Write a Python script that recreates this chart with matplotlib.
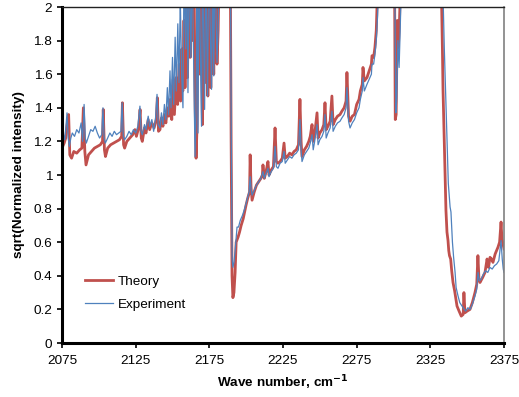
import numpy as np
import matplotlib
matplotlib.use('Agg')
import matplotlib.pyplot as plt

plt.rcParams['font.family'] = ['Liberation Sans', 'DejaVu Sans']

# theory spectrum (wave number, sqrt of normalized intensity)
theory_x = [2075.0, 2076.5, 2077.5, 2078.5, 2079.5, 2080.3, 2081.5, 2083.0, 2085.0, 2087.0,
            2088.5, 2089.5, 2090.5, 2091.3, 2093.0, 2095.0, 2097.0, 2099.0, 2101.0, 2102.5,
            2103.0, 2103.8, 2104.5, 2106.0, 2108.0, 2110.0, 2112.0, 2114.0, 2115.5, 2116.0,
            2116.8, 2117.5, 2119.0, 2121.0, 2123.0, 2124.5, 2125.5, 2127.0, 2128.0, 2128.8,
            2129.5, 2131.0, 2132.0, 2133.5, 2134.5, 2136.0, 2137.5, 2139.0, 2139.7, 2140.5,
            2141.5, 2142.5, 2143.5, 2144.5, 2145.5, 2146.5, 2147.5, 2148.5, 2149.5, 2150.5,
            2151.3, 2152.5, 2153.5, 2154.5, 2155.5, 2156.3, 2157.0, 2157.8, 2158.5, 2159.3,
            2160.2, 2161.0, 2162.0, 2162.8, 2163.8, 2164.5, 2165.4, 2166.0, 2166.7, 2167.5,
            2168.7, 2169.2, 2170.3, 2171.0, 2172.2, 2172.8, 2174.0, 2174.8, 2176.0, 2176.8,
            2178.0, 2178.8, 2180.2, 2181.0, 2181.8, 2185.0, 2189.2, 2189.8, 2190.4, 2191.0,
            2191.7, 2192.5, 2193.2, 2194.5, 2195.5, 2196.6, 2198.0, 2199.9, 2201.0, 2202.3,
            2202.7, 2203.3, 2204.0, 2205.5, 2207.0, 2208.5, 2210.0, 2211.0, 2211.4, 2212.3,
            2213.5, 2214.8, 2215.5, 2217.0, 2218.5, 2219.6, 2220.5, 2221.6, 2223.0, 2224.5,
            2225.7, 2226.5, 2228.0, 2229.5, 2231.0, 2232.5, 2234.0, 2235.5, 2236.5, 2237.3,
            2237.9, 2239.5, 2241.0, 2242.5, 2243.5, 2244.7, 2245.5, 2246.5, 2248.1, 2248.8,
            2250.0, 2251.5, 2252.7, 2253.5, 2254.3, 2255.5, 2257.0, 2258.2, 2259.0, 2260.5,
            2262.0, 2263.7, 2265.0, 2266.5, 2267.8, 2268.4, 2269.5, 2270.5, 2272.0, 2273.5,
            2275.0, 2276.6, 2277.5, 2278.8, 2279.3, 2280.2, 2282.0, 2283.5, 2285.0, 2285.4,
            2286.5, 2287.4, 2288.3, 2288.8, 2289.5, 2292.0, 2296.0, 2300.0, 2300.8, 2301.2,
            2301.8, 2302.6, 2303.3, 2304.0, 2305.0, 2310.0, 2325.0, 2332.0, 2332.7, 2333.2,
            2333.6, 2334.3, 2334.9, 2335.6, 2336.3, 2337.0, 2337.5, 2338.0, 2338.8, 2339.5,
            2340.4, 2341.5, 2343.1, 2344.5, 2346.0, 2347.3, 2347.8, 2348.5, 2350.0, 2351.9,
            2353.5, 2355.3, 2356.5, 2357.3, 2358.0, 2358.7, 2360.5, 2362.1, 2363.5, 2364.5,
            2365.5, 2366.5, 2367.5, 2369.0, 2370.9, 2372.0, 2373.0, 2373.6, 2374.3, 2375.0]
theory_y = [1.16, 1.19, 1.22, 1.30, 1.36, 1.12, 1.10, 1.14, 1.13, 1.15,
            1.16, 1.40, 1.14, 1.06, 1.12, 1.14, 1.16, 1.17, 1.18, 1.20,
            1.39, 1.15, 1.11, 1.16, 1.18, 1.19, 1.20, 1.21, 1.23, 1.43,
            1.18, 1.16, 1.20, 1.22, 1.24, 1.27, 1.23, 1.28, 1.39, 1.22,
            1.20, 1.28, 1.25, 1.33, 1.27, 1.31, 1.28, 1.33, 1.46, 1.26,
            1.27, 1.34, 1.29, 1.36, 1.31, 1.40, 1.35, 1.45, 1.33, 1.57,
            1.36, 1.58, 1.42, 1.66, 1.44, 1.75, 1.50, 1.92, 1.52, 2.05,
            1.58, 2.20, 1.70, 2.30, 1.80, 2.30, 1.40, 1.10, 1.30, 2.30,
            1.60, 2.30, 1.30, 2.30, 1.55, 2.30, 1.47, 2.30, 1.52, 2.30,
            1.60, 2.30, 1.66, 1.86, 2.30, 2.60, 2.30, 1.20, 0.40, 0.27,
            0.30, 0.42, 0.60, 0.63, 0.66, 0.70, 0.74, 0.82, 0.86, 0.90,
            1.12, 0.93, 0.85, 0.90, 0.94, 0.96, 0.98, 1.00, 1.06, 0.98,
            1.02, 1.08, 1.00, 1.03, 1.05, 1.28, 1.08, 1.07, 1.08, 1.10,
            1.19, 1.10, 1.11, 1.13, 1.12, 1.14, 1.15, 1.18, 1.45, 1.20,
            1.11, 1.15, 1.17, 1.20, 1.23, 1.30, 1.20, 1.24, 1.37, 1.22,
            1.25, 1.27, 1.30, 1.43, 1.27, 1.29, 1.32, 1.47, 1.30, 1.33,
            1.35, 1.36, 1.38, 1.40, 1.44, 1.61, 1.35, 1.32, 1.35, 1.36,
            1.42, 1.45, 1.50, 1.54, 1.64, 1.56, 1.58, 1.62, 1.66, 1.71,
            1.70, 1.76, 1.86, 2.00, 2.20, 2.40, 2.50, 2.30, 2.00, 1.33,
            1.36, 1.92, 1.76, 1.90, 2.20, 2.60, 2.60, 2.30, 2.00, 1.75,
            1.51, 1.25, 1.05, 0.79, 0.66, 0.61, 0.55, 0.52, 0.50, 0.43,
            0.36, 0.31, 0.22, 0.19, 0.16, 0.17, 0.30, 0.18, 0.19, 0.20,
            0.24, 0.30, 0.35, 0.52, 0.38, 0.36, 0.39, 0.42, 0.50, 0.45,
            0.51, 0.50, 0.48, 0.53, 0.57, 0.60, 0.72, 0.62, 0.59, 0.56]

# measured spectrum
exp_x = [2075.0, 2076.0, 2076.8, 2077.6, 2078.4, 2079.2, 2080.0, 2081.0, 2082.0, 2083.5,
         2085.0, 2086.5, 2088.0, 2089.0, 2090.0, 2090.8, 2091.5, 2093.0, 2094.5, 2096.0,
         2097.5, 2099.0, 2100.5, 2102.0, 2102.8, 2103.6, 2104.4, 2106.0, 2107.5, 2109.0,
         2110.5, 2112.0, 2113.5, 2115.0, 2115.8, 2116.6, 2117.5, 2119.0, 2120.5, 2122.0,
         2123.5, 2125.0, 2126.5, 2127.9, 2128.7, 2129.5, 2131.0, 2132.0, 2133.5, 2134.5,
         2136.0, 2137.2, 2138.5, 2139.5, 2140.3, 2141.5, 2142.5, 2143.5, 2144.5, 2145.5,
         2146.5, 2147.3, 2148.3, 2149.0, 2150.0, 2150.8, 2151.8, 2152.6, 2153.6, 2154.4,
         2155.3, 2156.2, 2157.1, 2157.8, 2159.0, 2159.7, 2160.5, 2161.3, 2162.5, 2163.3,
         2164.5, 2165.3, 2166.0, 2166.7, 2167.3, 2168.0, 2169.7, 2170.4, 2171.8, 2172.5,
         2173.8, 2174.6, 2176.5, 2177.3, 2178.0, 2178.8, 2180.2, 2181.0, 2181.8, 2185.0,
         2189.3, 2189.9, 2190.5, 2191.0, 2191.7, 2192.5, 2193.8, 2194.8, 2196.0, 2197.5,
         2199.0, 2200.5, 2202.0, 2202.7, 2203.3, 2204.0, 2205.5, 2207.0, 2208.5, 2210.0,
         2211.4, 2212.3, 2213.5, 2214.8, 2215.5, 2217.0, 2218.5, 2219.6, 2220.5, 2221.6,
         2223.0, 2224.5, 2225.7, 2226.5, 2228.0, 2229.5, 2231.0, 2232.5, 2234.0, 2235.5,
         2236.5, 2237.3, 2237.9, 2239.5, 2241.0, 2242.5, 2243.5, 2244.7, 2245.5, 2246.5,
         2248.1, 2248.8, 2250.0, 2251.5, 2252.7, 2253.5, 2254.3, 2255.5, 2257.0, 2258.2,
         2259.0, 2260.5, 2262.0, 2263.7, 2265.0, 2266.5, 2267.8, 2268.4, 2269.5, 2270.5,
         2272.0, 2273.5, 2275.0, 2276.6, 2277.5, 2278.8, 2279.3, 2280.2, 2282.0, 2283.5,
         2285.0, 2285.4, 2286.5, 2287.4, 2288.3, 2289.2, 2290.0, 2292.0, 2296.0, 2300.0,
         2301.0, 2301.6, 2302.2, 2303.0, 2303.8, 2304.5, 2305.5, 2310.0, 2325.0, 2333.0,
         2333.8, 2334.5, 2335.5, 2336.3, 2337.2, 2338.4, 2339.0, 2340.0, 2340.8, 2341.8,
         2342.5, 2343.8, 2345.0, 2346.5, 2348.0, 2349.0, 2350.5, 2352.0, 2353.5, 2355.3,
         2356.5, 2357.4, 2358.3, 2359.5, 2361.0, 2362.5, 2364.0, 2365.5, 2367.0, 2368.5,
         2370.0, 2371.5, 2373.0, 2373.8, 2374.5, 2375.0]
exp_y = [1.31, 1.24, 1.21, 1.28, 1.37, 1.22, 1.17, 1.22, 1.25, 1.23,
         1.27, 1.25, 1.31, 1.20, 1.42, 1.22, 1.19, 1.23, 1.27, 1.26,
         1.29, 1.25, 1.22, 1.24, 1.40, 1.22, 1.19, 1.22, 1.25, 1.23,
         1.26, 1.24, 1.25, 1.26, 1.43, 1.23, 1.21, 1.23, 1.26, 1.24,
         1.27, 1.25, 1.29, 1.41, 1.26, 1.24, 1.30, 1.27, 1.35, 1.29,
         1.33, 1.26, 1.34, 1.48, 1.30, 1.28, 1.37, 1.30, 1.42, 1.33,
         1.52, 1.36, 1.62, 1.40, 1.70, 1.42, 1.82, 1.50, 1.90, 1.55,
         2.05, 1.60, 1.40, 2.20, 1.75, 2.30, 1.49, 2.30, 1.70, 2.30,
         1.60, 1.11, 1.40, 2.30, 1.25, 2.30, 1.29, 2.30, 1.39, 2.30,
         1.47, 2.30, 1.51, 2.30, 1.59, 2.30, 1.67, 1.88, 2.30, 2.60,
         2.30, 1.20, 0.50, 0.45, 0.48, 0.55, 0.69, 0.69, 0.73, 0.76,
         0.80, 0.85, 0.90, 0.99, 0.92, 0.88, 0.91, 0.94, 0.96, 0.98,
         1.02, 0.98, 1.01, 1.04, 0.99, 1.02, 1.04, 1.17, 1.05, 1.04,
         1.07, 1.08, 1.14, 1.07, 1.09, 1.11, 1.10, 1.12, 1.13, 1.15,
         1.33, 1.15, 1.08, 1.12, 1.14, 1.16, 1.19, 1.24, 1.15, 1.20,
         1.30, 1.18, 1.21, 1.23, 1.26, 1.36, 1.22, 1.25, 1.28, 1.38,
         1.26, 1.29, 1.31, 1.32, 1.34, 1.36, 1.40, 1.52, 1.32, 1.28,
         1.31, 1.33, 1.37, 1.40, 1.45, 1.50, 1.58, 1.50, 1.54, 1.57,
         1.60, 1.66, 1.66, 1.72, 1.80, 1.95, 2.20, 2.40, 2.50, 2.30,
         2.00, 1.37, 1.45, 1.80, 1.64, 1.85, 2.20, 2.60, 2.60, 2.30,
         2.00, 1.75, 1.45, 1.20, 0.95, 0.81, 0.78, 0.60, 0.51, 0.42,
         0.33, 0.28, 0.24, 0.22, 0.20, 0.19, 0.21, 0.20, 0.23, 0.28,
         0.32, 0.42, 0.37, 0.38, 0.41, 0.43, 0.42, 0.45, 0.44, 0.46,
         0.47, 0.49, 0.61, 0.50, 0.44, 0.42]

x_ticks = [2075, 2125, 2175, 2225, 2275, 2325, 2375]
y_ticks = [0, 0.2, 0.4, 0.6, 0.8, 1, 1.2, 1.4, 1.6, 1.8, 2]

fig = plt.figure(figsize=(5.19, 3.97), dpi=100)
ax = fig.add_axes([62 / 519, 54 / 397, 442 / 519, 336 / 397])

ax.plot(theory_x, theory_y, color='#C0504D', linewidth=2.0, label='Theory')
ax.plot(exp_x, exp_y, color='#4F81BD', linewidth=0.9, label='Experiment')

ax.set_xlim(2075, 2375)
ax.set_ylim(0, 2)
ax.set_xticks(x_ticks)
ax.set_yticks(y_ticks)
ax.set_yticklabels([f'{v:g}' for v in y_ticks])
ax.tick_params(axis='both', labelsize=9.7, direction='out', length=3.5, width=1.2, colors='black')
ax.tick_params(axis='x', pad=5)

for side in ['left', 'bottom']:
    ax.spines[side].set_linewidth(2.2)
    ax.spines[side].set_color('black')
ax.spines['top'].set_linewidth(1.0)
ax.spines['top'].set_color('#222222')
ax.spines['right'].set_linewidth(1.2)
ax.spines['right'].set_color('#808080')

ax.set_xlabel('Wave number, cm$^{\\mathbf{-1}}$', fontsize=9.7, fontweight='bold', labelpad=5)
ax.set_ylabel('sqrt(Normalized intensity)', fontsize=9.7, fontweight='bold', labelpad=6)

ax.legend(loc='lower left', bbox_to_anchor=(0.025, 0.06), frameon=False, fontsize=9.7,
          handlelength=2.1, handletextpad=0.35, labelspacing=0.75)

fig.savefig('out.png', dpi=100)
